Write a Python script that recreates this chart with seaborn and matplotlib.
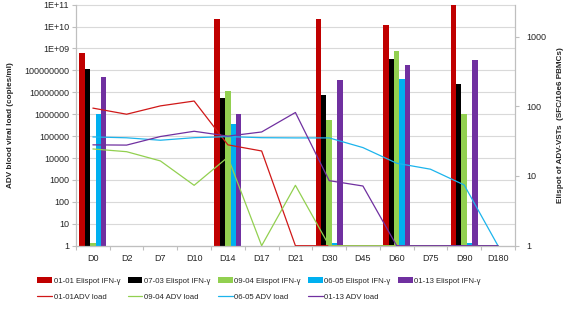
import numpy as np
import pandas as pd
import matplotlib
matplotlib.use("Agg")
import matplotlib.pyplot as plt
import matplotlib.transforms as mtransforms
from matplotlib.patches import Patch
from matplotlib.lines import Line2D
import seaborn as sns

nan = np.nan
days = ["D0", "D2", "D7", "D10", "D14", "D17", "D21", "D30", "D45", "D60", "D75", "D90", "D180"]

# Elispot IFN-gamma (SFC/10e6 PBMCs) - right axis
elispot_0101 = [589, nan, nan, nan, 1790, nan, nan, 1810, nan, 1480, nan, 3000, nan]
elispot_0703 = [347, nan, nan, nan, 133, nan, nan, 144, nan, 470, nan, 210, nan]
elispot_0904 = [1.1, nan, nan, nan, 166, nan, nan, 64, nan, 614, nan, 78, nan]
elispot_0605 = [77.7, nan, nan, nan, 56, nan, nan, 1.1, nan, 245, nan, 1.1, nan]
elispot_0113 = [264, nan, nan, nan, 78, nan, nan, 236, nan, 386, nan, 460, nan]

# ADV blood viral load (copies/ml) - left axis
load_0101 = [1.9e6, 1.0e6, 2.4e6, 4.0e6, 4.0e4, 2.1e4, 1, 1, 1, 1, 1, 1, 1]
load_0904 = [2.6e4, 1.95e4, 7.4e3, 570, 1.1e4, 1, 570, 1, 1, 1, 1, 1, 1]
load_0605 = [9.2e4, 8.4e4, 6.5e4, 8.5e4, 9.5e4, 8.5e4, 8.3e4, 8.3e4, 3.0e4, 5.8e3, 3.1e3, 590, 1]
load_0113 = [4.0e4, 3.9e4, 9.6e4, 1.67e5, 1.0e5, 1.55e5, 1.2e6, 930, 530, 1, 1, 1, 1]

bar_labels = ["01-01 Elispot IFN-γ", "07-03 Elispot IFN-γ", "09-04 Elispot IFN-γ",
              "06-05 Elispot IFN-γ", "01-13 Elispot IFN-γ"]
line_labels = ["01-01ADV load", "09-04 ADV load", "06-05 ADV load", "01-13 ADV load"]

bar_colors = ["#C00000", "#000000", "#92D050", "#00B0F0", "#7030A0"]
line_colors = ["#D01818", "#92D050", "#1CB4EC", "#7030A0"]

sns.set_theme(style="white")
plt.rcParams["font.family"] = ["Liberation Sans", "DejaVu Sans"]
FS = 6.5

bar_series = [elispot_0101, elispot_0703, elispot_0904, elispot_0605, elispot_0113]
rows = []
for lab, vals in zip(bar_labels, bar_series):
    for d, v in zip(days, vals):
        if not np.isnan(v):
            rows.append({"day": d, "series": lab, "value": v})
bars_df = pd.DataFrame(rows)

line_series = [load_0101, load_0904, load_0605, load_0113]
lrows = []
for lab, vals in zip(line_labels, line_series):
    for i, v in enumerate(vals):
        lrows.append({"x": i, "series": lab, "value": v})
lines_df = pd.DataFrame(lrows)

fig = plt.figure(figsize=(5.67, 3.10), dpi=100)
ax_bar = fig.add_axes([0.134, 0.2074, 0.774, 0.7776])  # right axis (Elispot), drawn below
ax_line = ax_bar.twinx()  # will be moved to left side

# Bars (right axis)
sns.barplot(data=bars_df, x="day", y="value", hue="series", order=days,
            hue_order=bar_labels, palette=bar_colors, ax=ax_bar,
            width=0.8, gap=0, errorbar=None, legend=False, saturation=1,
            edgecolor="none", zorder=2)
ax_bar.set_yscale("log")
ax_bar.set_ylim(1, 2870)

# Lines (left axis)
sns.lineplot(data=lines_df, x="x", y="value", hue="series", hue_order=line_labels,
             palette=line_colors, ax=ax_line, linewidth=0.9, legend=False,
             estimator=None, sort=False)
ax_line.set_yscale("log")
ax_line.set_ylim(1, 1e11)

# Put line axis on the left, bar axis on the right
ax_line.yaxis.set_label_position("left")
ax_line.yaxis.tick_left()
ax_bar.yaxis.set_label_position("right")
ax_bar.yaxis.tick_right()
ax_line.set_zorder(ax_bar.get_zorder() + 1)
ax_line.patch.set_visible(False)

for ax in (ax_bar, ax_line):
    ax.set_xlim(-0.5, len(days) - 0.5)
    ax.grid(False)
    for s in ax.spines.values():
        s.set_color("#BFBFBF")
        s.set_linewidth(0.8)
    ax.spines["top"].set_visible(False)

# Gridlines at left-axis decades, drawn behind bars
trans = mtransforms.blended_transform_factory(ax_bar.transAxes, ax_line.transData)
for k in range(0, 12):
    ax_bar.plot([0, 1], [10.0 ** k, 10.0 ** k], transform=trans, color="#D9D9D9",
                linewidth=0.8, zorder=0, clip_on=False)

# Left y ticks
left_ticks = [10.0 ** k for k in range(12)]
left_labels = ["1", "10", "100", "1000", "10000", "100000", "1000000", "10000000",
               "100000000", "1E+09", "1E+10", "1E+11"]
ax_line.set_yticks(left_ticks)
ax_line.set_yticklabels(left_labels)
ax_line.yaxis.set_minor_locator(matplotlib.ticker.NullLocator())
ax_line.tick_params(axis="y", which="major", length=3, width=0.8, color="#BFBFBF",
                    labelsize=FS, pad=2, left=True, right=False)

# Right y ticks
ax_bar.set_yticks([1, 10, 100, 1000])
ax_bar.set_yticklabels(["1", "10", "100", "1000"])
ax_bar.yaxis.set_minor_locator(matplotlib.ticker.NullLocator())
ax_bar.tick_params(axis="y", which="major", length=3, width=0.8, color="#BFBFBF",
                   labelsize=FS, pad=5, right=True, left=False)

# X ticks: labels at centers, tick marks at boundaries
ax_bar.set_xticks(range(len(days)))
ax_bar.set_xticklabels(days)
ax_bar.set_xticks(np.arange(-0.5, len(days), 1.0), minor=True)
ax_bar.tick_params(axis="x", which="major", length=0, labelsize=FS, pad=6)
ax_bar.tick_params(axis="x", which="minor", length=3, width=0.8, color="#BFBFBF", bottom=True)
ax_bar.set_xlabel("")
ax_line.tick_params(axis="x", which="both", bottom=False, top=False, labelbottom=False, labeltop=False)
ax_line.set_xlabel("")

ax_line.set_ylabel("ADV blood viral load (copies/ml)", fontsize=5.9, fontweight="bold", labelpad=7)
ax_bar.set_ylabel("Elispot of ADV-VSTs  (SFC/10e6 PBMCs)", fontsize=5.9, fontweight="bold",
                  labelpad=8, rotation=90)

# Legend: column-wise ordering for ncol=5, two rows
handles = []
labels = []
for i in range(5):
    handles.append(Patch(facecolor=bar_colors[i], edgecolor="none"))
    labels.append(bar_labels[i])
    if i < 4:
        handles.append(Line2D([], [], color=line_colors[i], linewidth=0.9))
        labels.append(line_labels[i])
    else:
        handles.append(Line2D([], [], color="none"))
        labels.append("")
fig.legend(handles, labels, ncol=5, loc="upper left", bbox_to_anchor=(0.066, 0.105),
           frameon=False, fontsize=5.6, handlelength=1.9, handleheight=0.8,
           handletextpad=0.2, columnspacing=0.95, labelspacing=1.0, borderpad=0,
           borderaxespad=0)

fig.savefig("out.png", dpi=100)
